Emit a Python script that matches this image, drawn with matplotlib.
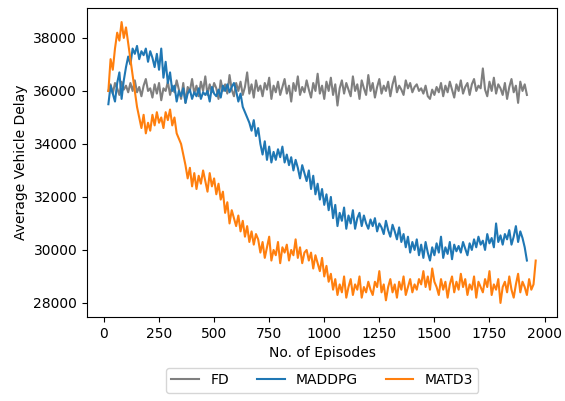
import numpy as np
import matplotlib
matplotlib.use('Agg')
import matplotlib.pyplot as plt

# average vehicle delay per episode, sampled every 10 episodes from episode 20
FD = [
    36000, 36250, 35900, 36300, 36100, 35850, 36350, 36050, 36200, 35950,
    36300, 36000, 36400, 35950, 36150, 35800, 36200, 36450, 36000, 36100,
    35750, 36250, 35900, 36300, 35650, 36100, 36000, 36350, 35850, 36200,
    35950, 36400, 36050, 35700, 36300, 35550, 36150, 36000, 36450, 35900,
    36200, 35800, 36350, 36000, 36550, 35850, 36250, 35950, 36300, 36100,
    35700, 36400, 36000, 36250, 35900, 36600, 36050, 35800, 36300, 36000,
    36350, 35850, 36150, 36700, 35900, 36250, 35750, 36400, 36000, 36200,
    35800, 36300, 36050, 36500, 35700, 36200, 35950, 36350, 35850, 36150,
    36450, 35900, 36200, 35600, 36300, 36000, 36550, 35850, 36150, 35950,
    36400, 36050, 35750, 36300, 36000, 36650, 35900, 36200, 35700, 36350,
    36000, 36500, 35850, 36250, 35450, 36100, 36400, 35900, 36300, 36050,
    35800, 36550, 36000, 36250, 35700, 36400, 36100, 35850, 36600, 36000,
    36300, 35750, 36150, 36450, 35900, 36200, 36000, 36350, 35800, 36250,
    36550, 35950, 36200, 36050, 35850, 36400, 36100, 36300, 35950, 36150,
    36250, 36000, 36100, 35900, 36200, 35800, 35700, 36050, 35850, 36150,
    35950, 36300, 35800, 36200, 35950, 36350, 36050, 35750, 36250, 36000,
    36400, 35900, 36150, 36300, 35850, 36250, 36450, 36000, 36200, 36100,
    36850, 36050, 35800, 36350, 36000, 36500, 35900, 36250, 36100, 35850,
    36300, 35700, 36150, 36450, 35950, 36200, 35550, 36350, 36000, 36250,
    35850,
]

MADDPG = [
    35500, 36200, 35900, 35600, 36300, 36700, 35700, 36400, 36900, 37300,
    37000, 37600, 37400, 37700, 37200, 37500, 37350, 37600, 37100, 37500,
    37250, 36900, 37400, 36800, 37600, 36500, 37100, 36300, 36700, 36000,
    36200, 35600, 36000, 35800, 36100, 35550, 35900, 36050, 35700, 35950,
    35800, 36100, 35700, 35950, 35850, 36000, 35600, 36150, 35900, 35800,
    36050, 35750, 36200, 36000, 36250, 35950, 36150, 36300, 36000, 35600,
    35900, 35400, 35200, 35000, 34800, 34500, 34900, 34300, 34600, 34000,
    33600, 34100, 33400, 33900, 33300, 33700, 33400, 33800, 33500, 33900,
    33300, 33600, 33200, 33500, 33000, 33400, 33100, 32700, 33200, 32900,
    32600, 33000, 32300, 32800, 32100, 32500, 31900, 32300, 31700, 32100,
    31500, 32000, 31200, 31700, 30900, 31400, 31100, 31600, 30800, 31300,
    31000, 31500, 30800, 31200, 31400, 30900, 31300, 31000, 30800, 31150,
    30900, 31200, 30700, 31000, 30850, 30600, 31100, 30750, 30500, 30950,
    30700, 30400, 30850, 30300, 30600, 30100, 30500, 29900, 30300, 30000,
    30400, 29800, 30200, 29700, 30300, 29900, 29600, 30100, 29800, 30250,
    29900, 30500, 29700, 30100, 29850, 30300, 29650, 30200, 29950, 30150,
    29900, 30300, 30050, 29800, 30250, 30000, 30400, 30100, 30500, 30200,
    30350, 30000, 30600, 30250, 30450, 30100, 31000, 30300, 30550, 30200,
    30600, 30400, 30750, 30200, 30500, 30900, 30300, 30700, 30450, 30100,
    29600,
]

MATD3 = [
    36000, 37200, 36800, 37600, 38200, 37900, 38600, 38000, 38400, 37800,
    37200, 36600, 36000, 35400, 35000, 34600, 35100, 34400, 34800, 34500,
    35100, 34700, 35200, 34800, 35000, 34600, 35200, 34900, 35300, 34700,
    35000, 34400, 34200, 34000, 33600, 33200, 32700, 33100, 32400, 32900,
    32300, 32800, 32500, 33000, 32600, 32200, 32900, 32400, 32700, 32100,
    32500, 31900, 32200, 31400, 31800, 31000, 31500, 31200, 30900, 31300,
    30700, 31100, 30500, 30900, 30300, 30700, 30200, 30600, 30400, 29900,
    30300, 29700, 30100, 30500, 29600, 30000, 29800, 30300, 29500, 30100,
    29900, 30200, 29600, 30000, 29800, 30400, 29700, 30100, 29500, 29900,
    30000, 29600, 29900, 29300, 29800, 29500, 29200, 29700, 29000, 29400,
    28800, 29100, 28500, 28900, 28300, 28700, 28400, 29000, 28200, 28600,
    28900, 28300, 28700, 28500, 29000, 28200, 28600, 28400, 28800, 28500,
    28300, 28800, 28600, 29200, 28400, 28700, 28100, 28600, 28900, 28400,
    28700, 28200, 28800, 28500, 29000, 28300, 28600, 28900, 28400, 28700,
    28500, 28900, 28700, 29200, 28600, 29000, 28500, 29300, 28800, 28600,
    28300, 28900, 28500, 28800, 28200, 28700, 29000, 28400, 28800, 28500,
    29100, 28600, 28900, 28300, 28700, 28500, 29000, 28200, 28800, 28600,
    28400, 28900, 28600, 29200, 28300, 28700, 28500, 28900, 28000, 28600,
    28800, 28400, 29000, 28500, 28200, 28700, 29100, 28400, 28800, 28600,
    28300, 28900, 28500, 28700, 29600,
]

START_EP = 20
STEP = 10


def episodes(values):
    return np.arange(START_EP, START_EP + STEP * len(values), STEP)


fig = plt.figure(figsize=(5.65, 4.01), dpi=100)
ax = fig.add_axes([0.154, 0.2095, 0.832, 0.7705])

ax.plot(episodes(FD), FD, color='tab:gray', linewidth=1.5, label='FD')
ax.plot(episodes(MADDPG), MADDPG, color='tab:blue', linewidth=1.5, label='MADDPG')
ax.plot(episodes(MATD3), MATD3, color='tab:orange', linewidth=1.5, label='MATD3')

ax.set_xticks(np.arange(0, 2001, 250))
ax.set_yticks(np.arange(28000, 38001, 2000))
ax.set_xlabel('No. of Episodes')
ax.set_ylabel('Average Vehicle Delay')
ax.legend(loc='center', bbox_to_anchor=(0.5, -0.205), ncol=3)

fig.savefig('out.png', dpi=100)
